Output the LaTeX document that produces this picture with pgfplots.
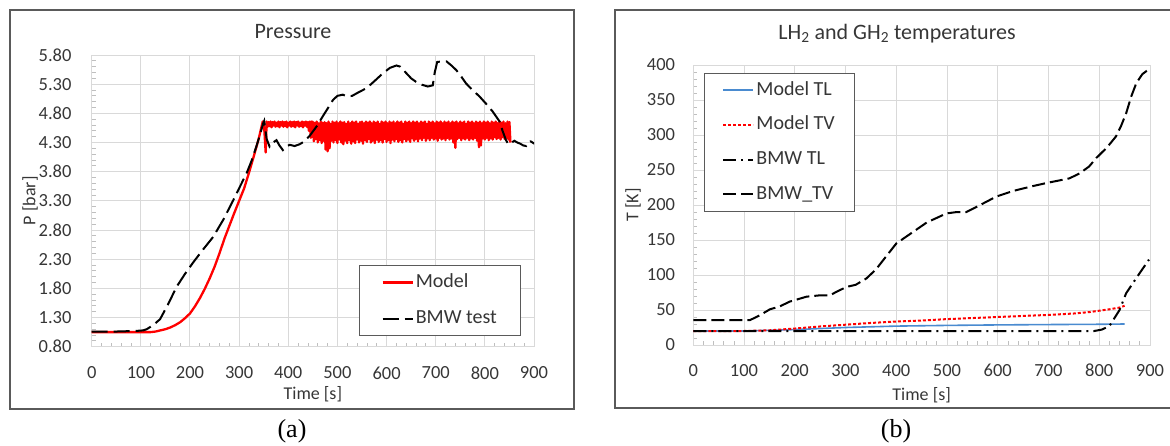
\documentclass[border=0pt]{standalone}
\usepackage{fontspec}
\setmainfont{Carlito}
\newfontfamily\timesfont{Liberation Serif}
\usepackage{pgfplots}
\pgfplotsset{compat=1.18}
\definecolor{txt}{HTML}{363636}
\definecolor{gridc}{HTML}{D9D9D9}
\definecolor{tickc}{HTML}{BFBFBF}
\definecolor{framec}{HTML}{5A5A5A}
\definecolor{tlblue}{HTML}{4A8BD0}
\pgfplotsset{excel/.style={
  scale only axis,
  axis line style={draw=gridc, line width=1pt},
  grid=major,
  major grid style={draw=gridc, line width=1pt},
  tick align=inside,
  tick pos=left,
  major tick length=0pt,
  minor tick length=4pt,
  tick style={draw=tickc, line width=0.8pt},
  /pgf/number format/assume math mode=true,
  tick label style={font=\fontsize{18.5}{22}\selectfont, text=txt, inner sep=0pt},
  label style={font=\fontsize{18}{22}\selectfont, text=txt},
  legend image code/.code={\draw[##1] (0pt,0pt) -- (30pt,0pt);},
  legend cell align=left,
}}
\begin{document}
\begin{tikzpicture}
\useasboundingbox (0pt,0pt) rectangle (1170pt,445pt);
% frames
\draw[framec, line width=1.5pt] (10pt,36pt) rectangle (574pt,435pt);
\draw[framec, line width=1.5pt] (615pt,37pt) rectangle (1190pt,435pt);
% titles
\node[font=\fontsize{22}{26}\selectfont, text=txt, anchor=base] at (293pt,406.7pt) {Pressure};
\node[font=\fontsize{22}{26}\selectfont, text=txt, anchor=base] at (897pt,405.7pt) {LH\textsubscript{2} and GH\textsubscript{2} temperatures};
% captions
\node[font=\timesfont\fontsize{26}{30}\selectfont] at (292pt,14pt) {(a)};
\node[font=\timesfont\fontsize{26}{30}\selectfont] at (896pt,14pt) {(b)};

\begin{axis}[excel, at={(91.7pt,98.3pt)}, anchor=south west,
  width=442.3pt, height=291.7pt,
  xmin=0, xmax=900, ymin=0.8, ymax=5.8,
  xtick={0,100,...,900},
  ytick={0.8,1.3,1.8,2.3,2.8,3.3,3.8,4.3,4.8,5.3,5.8},
  yticklabels={0.80,1.30,1.80,2.30,2.80,3.30,3.80,4.30,4.80,5.30,5.80},
  minor x tick num=4, minor y tick num=4,
  xticklabel style={anchor=north, yshift=-20pt},
  yticklabel style={anchor=east, xshift=-20pt},
  xlabel={Time [s]}, ylabel={P [bar]},
  xlabel style={at={(axis description cs:0.5,-0.1646)}, anchor=center},
  ylabel style={at={(axis description cs:-0.1395,0.5)}, anchor=center},
  legend style={at={(0.6043,0.280)}, anchor=north west, draw=framec, line width=1pt, fill=white,
    font=\fontsize{20}{24}\selectfont, inner xsep=22pt, inner ysep=6pt, row sep=14pt,
    nodes={inner xsep=2pt, inner ysep=2pt, text height=14pt, text depth=4pt, text=txt}},
]
\addplot[red, line width=2.3pt, line join=round] coordinates {
(0,1.05) (50,1.05) (100,1.05) (120,1.05) (130,1.06) (140,1.08) (150,1.10) (160,1.13) (170,1.17) (180,1.22) (190,1.29)
(200,1.37) (210,1.49) (220,1.63) (230,1.79) (240,1.97) (250,2.17) (260,2.40) (270,2.65) (280,2.87) (290,3.09)
(300,3.30) (310,3.51) (320,3.78) (330,4.07) (340,4.37) (348,4.66) (351,4.55) (354,4.13)
(356,4.66) (358,4.57) (360,4.65) (362,4.58) (364,4.66) (366,4.56) (368,4.65) (370,4.59) (372,4.66) (374,4.57)
(376,4.64) (378,4.58) (380,4.66) (382,4.56) (384,4.65) (386,4.59) (388,4.66) (390,4.57) (392,4.65) (394,4.58)
(396,4.66) (398,4.56) (400,4.64) (402,4.59) (404,4.66) (406,4.57) (408,4.65) (410,4.58) (412,4.66) (414,4.56)
(416,4.65) (418,4.59) (420,4.66) (422,4.57) (424,4.64) (426,4.58) (428,4.66) (430,4.56) (432,4.65) (434,4.59)
(436,4.66) (438,4.57) (440,4.65) (442,4.50) (444,4.66) (446,4.38) (448,4.66)
(450,4.65) (452,4.32) (454,4.64) (456,4.36) (458,4.66) (460,4.30) (462,4.63) (464,4.34) (466,4.66) (468,4.29)
(470,4.64) (472,4.33) (474,4.65) (476,4.18) (478,4.63) (480,4.15) (482,4.66) (484,4.20) (486,4.62) (488,4.33)
(490,4.66) (492,4.30) (494,4.64) (496,4.34) (498,4.66) (500,4.29) (502,4.63) (504,4.35) (506,4.66) (508,4.30)
(510,4.64) (512,4.27) (514,4.65) (516,4.33) (518,4.62) (520,4.29) (522,4.66) (524,4.34) (526,4.63) (528,4.28)
(530,4.66) (532,4.32) (534,4.64) (536,4.29) (538,4.66) (540,4.35) (542,4.62) (544,4.30) (546,4.65) (548,4.33)
(550,4.66) (552,4.28) (554,4.63) (556,4.34) (558,4.66) (560,4.31) (562,4.64) (564,4.36) (566,4.66) (568,4.30)
(570,4.63) (572,4.33) (574,4.66) (576,4.29) (578,4.64) (580,4.35) (582,4.66) (584,4.31) (586,4.62) (588,4.34)
(590,4.66) (592,4.30) (594,4.64) (596,4.36) (598,4.66) (600,4.31) (602,4.63) (604,4.34) (606,4.66) (608,4.29)
(610,4.64) (612,4.35) (614,4.66) (616,4.32) (618,4.63) (620,4.36) (622,4.66) (624,4.31) (626,4.64) (628,4.34)
(630,4.66) (632,4.30) (634,4.62) (636,4.36) (638,4.66) (640,4.32) (642,4.64) (644,4.35) (646,4.66) (648,4.31)
(650,4.63) (652,4.37) (654,4.66) (656,4.33) (658,4.64) (660,4.36) (662,4.66) (664,4.32) (666,4.63) (668,4.37)
(670,4.66) (672,4.34) (674,4.64) (676,4.38) (678,4.66) (680,4.33) (682,4.62) (684,4.37) (686,4.66) (688,4.34)
(690,4.64) (692,4.38) (694,4.66) (696,4.35) (698,4.63) (700,4.37) (702,4.66) (704,4.33) (706,4.64) (708,4.38)
(710,4.66) (712,4.35) (714,4.63) (716,4.37) (718,4.66) (720,4.34) (722,4.64) (724,4.38) (726,4.66) (728,4.35)
(730,4.63) (732,4.37) (734,4.66) (736,4.30) (738,4.64) (740,4.21) (742,4.66) (744,4.36) (746,4.63) (748,4.38)
(750,4.66) (752,4.34) (754,4.64) (756,4.37) (758,4.66) (760,4.35) (762,4.62) (764,4.38) (766,4.66) (768,4.34)
(770,4.64) (772,4.37) (774,4.66) (776,4.35) (778,4.63) (780,4.38) (782,4.66) (784,4.33) (786,4.64) (788,4.22)
(790,4.66) (792,4.25) (794,4.63) (796,4.37) (798,4.66) (800,4.35) (802,4.64) (804,4.38) (806,4.66) (808,4.34)
(810,4.63) (812,4.37) (814,4.66) (816,4.35) (818,4.64) (820,4.39) (822,4.66) (824,4.36) (826,4.63) (828,4.38)
(830,4.66) (832,4.35) (834,4.64) (836,4.39) (838,4.66) (840,4.36) (842,4.63) (844,4.38) (846,4.66) (848,4.35)
(850,4.65) (852,4.30)
};
\addlegendentry{Model}
\addplot[black, line width=2pt, dash pattern=on 16pt off 6pt] coordinates {
(0,1.06) (50,1.06) (90,1.07) (105,1.08) (112,1.10) (125,1.17) (139,1.27) (155,1.52) (173,1.83) (190,2.05)
(207,2.25) (227,2.47) (247,2.68) (268,2.98) (288,3.31) (302,3.55) (315,3.77) (325,3.98) (335,4.23) (343,4.45)
(349,4.63) (351,4.67) (356,4.36) (362,4.23) (369,4.30) (376,4.34) (382,4.25) (389,4.17) (396,4.23) (403,4.26)
(413,4.24) (423,4.27) (433,4.32) (444,4.42) (458,4.58) (471,4.76) (483,4.92) (491,5.03) (500,5.10) (511,5.12)
(520,5.09) (530,5.10) (545,5.17) (559,5.23) (575,5.35) (593,5.49) (607,5.58) (620,5.62) (628,5.60) (640,5.49)
(650,5.40) (660,5.34) (672,5.29) (684,5.26) (694,5.28) (698,5.50) (703,5.68) (712,5.69) (722,5.69) (732,5.62)
(742,5.54) (752,5.43) (762,5.31) (775,5.20) (789,5.09) (803,4.96) (816,4.83) (830,4.66) (836,4.50) (843,4.34)
(848,4.27) (853,4.29) (860,4.33) (866,4.30) (872,4.28) (878,4.25) (884,4.24) (888,4.31) (893,4.32) (901,4.28)
};
\addlegendentry{BMW test}
\end{axis}

\begin{axis}[excel, at={(693.3pt,100pt)}, anchor=south west,
  width=456.7pt, height=280pt,
  xmin=0, xmax=900, ymin=0, ymax=400,
  xtick={0,100,...,900}, ytick={0,50,...,400},
  minor x tick num=4, minor y tick num=4,
  xticklabel style={anchor=north, yshift=-19pt},
  yticklabel style={anchor=east, xshift=-18pt},
  xlabel={Time [s]}, ylabel={T [K]},
  xlabel style={at={(axis description cs:0.5,-0.1786)}, anchor=center},
  ylabel style={at={(axis description cs:-0.132,0.5)}, anchor=center},
  legend style={at={(0.0234,0.9725)}, anchor=north west, draw=framec, line width=1pt, fill=white,
    font=\fontsize{20}{24}\selectfont, inner xsep=18pt, inner ysep=6pt, row sep=12.7pt,
    nodes={inner xsep=2pt, inner ysep=2pt, text height=14pt, text depth=4pt, text=txt}},
]
\addplot[tlblue, line width=1.6pt] coordinates {
(0,20) (100,20) (150,21) (200,22) (250,23.5) (300,25) (350,26) (400,27) (500,28) (600,28.7) (700,29.2) (800,29.6) (850,30)
};
\addlegendentry{Model TL}
\addplot[red, line width=2pt, dash pattern=on 3pt off 2pt] coordinates {
(0,20) (100,20) (150,21) (200,23.5) (250,26.5) (300,29) (350,31.5) (400,33.5) (450,35) (500,37) (550,38.5)
(600,40) (650,41.5) (700,43) (750,45) (780,47) (800,49) (820,51) (840,53.5) (850,56)
};
\addlegendentry{Model TV}
\addplot[black, line width=2pt, dash pattern=on 13pt off 5pt on 2pt off 5pt] coordinates {
(0,20) (790,20) (805,22) (820,27) (840,50) (853,74) (866,88) (879,102) (898,122)
};
\addlegendentry{BMW TL}
\addplot[black, line width=2pt, dash pattern=on 13pt off 5pt] coordinates {
(0,35.7) (50,35.7) (112,35.7) (130,42) (151,51) (170,55) (190,62) (223,69) (250,71) (269,71) (285,77) (302,83)
(320,86) (341,95) (360,108) (374,121) (400,145) (426,158) (460,175) (499,188) (520,190) (538,190) (560,198)
(597,212) (630,220) (669,227) (700,232) (741,238) (761,245) (780,255) (794,267) (815,282) (833,298) (843,313)
(853,331) (863,355) (873,374) (885,387) (898,394)
};
\addlegendentry{BMW\_TV}
\end{axis}
\end{tikzpicture}
\end{document}
